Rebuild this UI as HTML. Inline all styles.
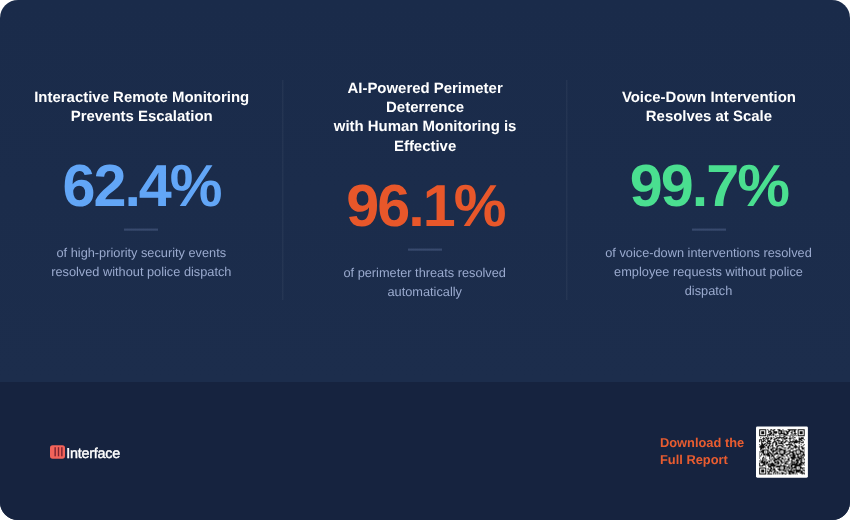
<!DOCTYPE html>
<html lang="en">
<head>
<meta charset="utf-8">
<title>Security Report Highlights</title>
<style>
*{box-sizing:border-box;margin:0;padding:0}
html,body{width:850px;height:520px;background:#fff;overflow:hidden}
body{font-family:"Liberation Sans",Arial,Helvetica,sans-serif;text-rendering:geometricPrecision}
.card{position:relative;width:850px;height:520px;border-radius:18px;overflow:hidden;background:linear-gradient(180deg,#1a2b4a 0px,#1c2d4c 382px)}
.divider{position:absolute;top:80px;width:2px;height:220px;background:linear-gradient(90deg,rgba(255,255,255,.045) 0,rgba(255,255,255,.045) 1px,rgba(255,255,255,.02) 1px,rgba(255,255,255,.02) 2px)}
.col{position:absolute;top:0;width:300px;height:382px;text-align:center}
.col>*{position:absolute;left:0;width:300px;white-space:nowrap}
.title{color:#fff;font-weight:700;font-size:14.95px;line-height:19.35px}
.num{font-weight:700;font-size:59.3px;line-height:70px;letter-spacing:-2.0px}
.c1 .num{color:#62a6f7}
.c2 .num{color:#e8572a}
.c3 .num{color:#4adf90}
.col>.rule{width:34px;height:3px;background:linear-gradient(180deg,rgba(140,160,210,.11) 0,rgba(140,160,210,.11) 1px,rgba(140,160,210,.25) 1px,rgba(140,160,210,.25) 2px,rgba(140,160,210,.17) 2px,rgba(140,160,210,.17) 3px)}
.desc{color:#9babcf;font-size:12.78px;line-height:19.05px}
.footer{position:absolute;left:0;top:382px;width:850px;height:138px;background:#16233f}
.logo{position:absolute;left:50px;top:445px;width:80px;height:14px}
.logo svg{position:absolute;left:0;top:0;display:block}
.logo span{position:absolute;left:16.2px;top:0px;display:block;color:#fff;font-weight:400;-webkit-text-stroke:.4px #fff;font-size:14.4px;line-height:18px;letter-spacing:-.25px;white-space:nowrap}
.dl{position:absolute;left:660px;top:434.4px;color:#e85c30;font-weight:700;font-size:12.85px;line-height:17px;white-space:nowrap}
.qr{position:absolute;left:756px;top:426px;width:52px;height:52px;display:block}
</style>
</head>
<body>
<main class="card">
  <div class="divider" style="left:282px"></div>
  <div class="divider" style="left:566px"></div>
  <section class="col c1" style="left:-8.30px">
    <h3 class="title" style="top:87.9px">Interactive Remote Monitoring<br>Prevents Escalation</h3>
    <div class="num" style="top:151px;left:-0.2px">62.4%</div>
    <div class="rule" style="top:228px;left:132.30px"></div>
    <p class="desc" style="top:242.5px;left:-0.4px">of high-priority security events<br>resolved without police dispatch</p>
  </section>
  <section class="col c2" style="left:275.10px">
    <h3 class="title" style="top:78.6px">AI-Powered Perimeter<br>Deterrence<br>with Human Monitoring is<br>Effective</h3>
    <div class="num" style="top:171px;left:0.3px">96.1%</div>
    <div class="rule" style="top:248px;left:132.90px"></div>
    <p class="desc" style="top:262.5px;left:-0.4px">of perimeter threats resolved<br>automatically</p>
  </section>
  <section class="col c3" style="left:558.90px">
    <h3 class="title" style="top:87.9px">Voice-Down Intervention<br>Resolves at Scale</h3>
    <div class="num" style="top:151px;left:-0.1px">99.7%</div>
    <div class="rule" style="top:228px;left:133.10px"></div>
    <p class="desc" style="top:242.5px;left:-0.4px">of voice-down interventions resolved<br>employee requests without police<br>dispatch</p>
  </section>
  <footer class="footer"></footer>
  <div class="logo">
    <svg width="15" height="14" viewBox="0 0 15 14" aria-hidden="true"><rect x="0" y="0.3" width="15" height="13.4" rx="2.6" fill="#f2635a"/><g fill="#7c2331"><rect x="4.45" y="2.2" width="1.4" height="9.1"/><rect x="7.8" y="2.2" width="1.4" height="9.1"/><rect x="11.15" y="2.2" width="1.4" height="9.1"/></g></svg>
    <span>Interface</span>
  </div>
  <div class="dl">Download the<br>Full Report</div>
  <svg class="qr" viewBox="0 0 52 52" aria-hidden="true"><rect x="0" y="0.4" width="51.9" height="51.3" rx="1.4" fill="#fff"/><g transform="translate(3.2 3.3) scale(1.0111 1.0044)"><path fill="#0b0b0b" d="M0 0h7v1h-7zM8 0h1v1h-1zM11 0h2v1h-2zM14 0h2v1h-2zM18 0h3v1h-3zM23 0h1v1h-1zM28 0h9v1h-9zM38 0h7v1h-7zM0 1h1v1h-1zM6 1h1v1h-1zM9 1h1v1h-1zM11 1h1v1h-1zM13 1h2v1h-2zM19 1h4v1h-4zM24 1h1v1h-1zM26 1h1v1h-1zM29 1h2v1h-2zM32 1h1v1h-1zM34 1h2v1h-2zM38 1h1v1h-1zM44 1h1v1h-1zM0 2h1v1h-1zM2 2h3v1h-3zM6 2h1v1h-1zM9 2h3v1h-3zM14 2h4v1h-4zM19 2h1v1h-1zM21 2h2v1h-2zM24 2h1v1h-1zM26 2h4v1h-4zM32 2h1v1h-1zM34 2h2v1h-2zM38 2h1v1h-1zM40 2h3v1h-3zM44 2h1v1h-1zM0 3h1v1h-1zM2 3h3v1h-3zM6 3h1v1h-1zM9 3h1v1h-1zM11 3h2v1h-2zM14 3h4v1h-4zM19 3h1v1h-1zM21 3h2v1h-2zM24 3h1v1h-1zM27 3h2v1h-2zM31 3h2v1h-2zM35 3h1v1h-1zM38 3h1v1h-1zM40 3h3v1h-3zM44 3h1v1h-1zM0 4h1v1h-1zM2 4h3v1h-3zM6 4h1v1h-1zM10 4h3v1h-3zM14 4h1v1h-1zM16 4h1v1h-1zM19 4h7v1h-7zM27 4h2v1h-2zM32 4h1v1h-1zM34 4h3v1h-3zM38 4h1v1h-1zM40 4h3v1h-3zM44 4h1v1h-1zM0 5h1v1h-1zM6 5h1v1h-1zM8 5h4v1h-4zM13 5h2v1h-2zM20 5h1v1h-1zM24 5h4v1h-4zM31 5h1v1h-1zM33 5h1v1h-1zM35 5h1v1h-1zM38 5h1v1h-1zM44 5h1v1h-1zM0 6h7v1h-7zM8 6h1v1h-1zM10 6h1v1h-1zM12 6h1v1h-1zM14 6h1v1h-1zM16 6h1v1h-1zM18 6h1v1h-1zM20 6h1v1h-1zM22 6h1v1h-1zM24 6h1v1h-1zM26 6h1v1h-1zM28 6h1v1h-1zM30 6h1v1h-1zM32 6h1v1h-1zM34 6h1v1h-1zM36 6h1v1h-1zM38 6h7v1h-7zM8 7h1v1h-1zM16 7h1v1h-1zM20 7h1v1h-1zM24 7h2v1h-2zM30 7h1v1h-1zM33 7h1v1h-1zM1 8h1v1h-1zM4 8h1v1h-1zM6 8h2v1h-2zM9 8h1v1h-1zM11 8h2v1h-2zM14 8h1v1h-1zM17 8h8v1h-8zM26 8h2v1h-2zM30 8h1v1h-1zM32 8h1v1h-1zM34 8h2v1h-2zM39 8h1v1h-1zM41 8h3v1h-3zM3 9h3v1h-3zM7 9h3v1h-3zM11 9h2v1h-2zM15 9h3v1h-3zM19 9h1v1h-1zM22 9h1v1h-1zM24 9h4v1h-4zM29 9h3v1h-3zM33 9h1v1h-1zM39 9h5v1h-5zM0 10h3v1h-3zM4 10h1v1h-1zM6 10h1v1h-1zM8 10h1v1h-1zM11 10h1v1h-1zM14 10h2v1h-2zM18 10h1v1h-1zM23 10h1v1h-1zM25 10h1v1h-1zM30 10h1v1h-1zM34 10h1v1h-1zM36 10h1v1h-1zM39 10h3v1h-3zM44 10h1v1h-1zM0 11h1v1h-1zM2 11h1v1h-1zM4 11h2v1h-2zM8 11h3v1h-3zM15 11h1v1h-1zM17 11h4v1h-4zM23 11h1v1h-1zM26 11h2v1h-2zM30 11h1v1h-1zM33 11h1v1h-1zM35 11h3v1h-3zM39 11h1v1h-1zM41 11h2v1h-2zM0 12h1v1h-1zM2 12h3v1h-3zM6 12h1v1h-1zM8 12h4v1h-4zM14 12h3v1h-3zM19 12h1v1h-1zM21 12h3v1h-3zM25 12h2v1h-2zM28 12h1v1h-1zM30 12h11v1h-11zM43 12h1v1h-1zM2 13h1v1h-1zM7 13h2v1h-2zM10 13h1v1h-1zM13 13h2v1h-2zM16 13h2v1h-2zM19 13h1v1h-1zM21 13h2v1h-2zM24 13h2v1h-2zM29 13h2v1h-2zM32 13h1v1h-1zM34 13h4v1h-4zM39 13h1v1h-1zM41 13h3v1h-3zM2 14h2v1h-2zM5 14h2v1h-2zM8 14h4v1h-4zM13 14h1v1h-1zM16 14h2v1h-2zM19 14h5v1h-5zM29 14h1v1h-1zM31 14h1v1h-1zM34 14h1v1h-1zM39 14h1v1h-1zM0 15h1v1h-1zM2 15h4v1h-4zM7 15h1v1h-1zM10 15h1v1h-1zM13 15h1v1h-1zM16 15h2v1h-2zM23 15h1v1h-1zM26 15h7v1h-7zM35 15h1v1h-1zM41 15h1v1h-1zM44 15h1v1h-1zM1 16h4v1h-4zM6 16h2v1h-2zM9 16h2v1h-2zM12 16h2v1h-2zM16 16h1v1h-1zM18 16h5v1h-5zM24 16h1v1h-1zM27 16h1v1h-1zM30 16h1v1h-1zM32 16h2v1h-2zM35 16h2v1h-2zM39 16h1v1h-1zM43 16h1v1h-1zM0 17h6v1h-6zM8 17h2v1h-2zM11 17h1v1h-1zM13 17h1v1h-1zM17 17h2v1h-2zM22 17h2v1h-2zM29 17h2v1h-2zM34 17h4v1h-4zM39 17h1v1h-1zM41 17h2v1h-2zM1 18h4v1h-4zM6 18h1v1h-1zM8 18h2v1h-2zM13 18h3v1h-3zM17 18h1v1h-1zM20 18h1v1h-1zM24 18h3v1h-3zM28 18h2v1h-2zM31 18h1v1h-1zM33 18h1v1h-1zM35 18h2v1h-2zM38 18h2v1h-2zM42 18h3v1h-3zM1 19h2v1h-2zM9 19h1v1h-1zM11 19h3v1h-3zM16 19h7v1h-7zM28 19h1v1h-1zM31 19h3v1h-3zM39 19h1v1h-1zM42 19h2v1h-2zM1 20h1v1h-1zM3 20h6v1h-6zM11 20h2v1h-2zM14 20h1v1h-1zM16 20h2v1h-2zM20 20h7v1h-7zM30 20h1v1h-1zM36 20h5v1h-5zM44 20h1v1h-1zM2 21h3v1h-3zM8 21h2v1h-2zM12 21h5v1h-5zM18 21h3v1h-3zM24 21h2v1h-2zM28 21h3v1h-3zM33 21h4v1h-4zM40 21h3v1h-3zM0 22h5v1h-5zM6 22h1v1h-1zM8 22h1v1h-1zM10 22h1v1h-1zM13 22h2v1h-2zM17 22h1v1h-1zM20 22h1v1h-1zM22 22h1v1h-1zM24 22h4v1h-4zM30 22h4v1h-4zM36 22h1v1h-1zM38 22h1v1h-1zM40 22h5v1h-5zM3 23h2v1h-2zM8 23h4v1h-4zM13 23h1v1h-1zM16 23h3v1h-3zM20 23h1v1h-1zM24 23h2v1h-2zM29 23h2v1h-2zM32 23h3v1h-3zM36 23h1v1h-1zM40 23h1v1h-1zM43 23h1v1h-1zM0 24h1v1h-1zM2 24h1v1h-1zM4 24h6v1h-6zM11 24h2v1h-2zM14 24h5v1h-5zM20 24h6v1h-6zM27 24h3v1h-3zM33 24h2v1h-2zM36 24h6v1h-6zM43 24h2v1h-2zM2 25h1v1h-1zM4 25h2v1h-2zM7 25h4v1h-4zM12 25h2v1h-2zM15 25h1v1h-1zM19 25h1v1h-1zM21 25h3v1h-3zM26 25h2v1h-2zM30 25h6v1h-6zM37 25h2v1h-2zM42 25h3v1h-3zM0 26h2v1h-2zM6 26h1v1h-1zM8 26h3v1h-3zM12 26h3v1h-3zM18 26h1v1h-1zM22 26h3v1h-3zM27 26h1v1h-1zM30 26h1v1h-1zM33 26h3v1h-3zM38 26h1v1h-1zM40 26h3v1h-3zM44 26h1v1h-1zM4 27h1v1h-1zM10 27h1v1h-1zM12 27h1v1h-1zM14 27h1v1h-1zM17 27h1v1h-1zM19 27h3v1h-3zM25 27h1v1h-1zM28 27h1v1h-1zM31 27h5v1h-5zM37 27h3v1h-3zM41 27h1v1h-1zM43 27h1v1h-1zM0 28h1v1h-1zM3 28h2v1h-2zM6 28h1v1h-1zM10 28h1v1h-1zM14 28h2v1h-2zM18 28h3v1h-3zM22 28h2v1h-2zM29 28h1v1h-1zM31 28h6v1h-6zM38 28h6v1h-6zM3 29h1v1h-1zM5 29h1v1h-1zM10 29h1v1h-1zM12 29h2v1h-2zM15 29h5v1h-5zM22 29h2v1h-2zM25 29h2v1h-2zM28 29h2v1h-2zM32 29h3v1h-3zM37 29h1v1h-1zM39 29h3v1h-3zM44 29h1v1h-1zM1 30h1v1h-1zM3 30h2v1h-2zM6 30h2v1h-2zM11 30h1v1h-1zM14 30h4v1h-4zM19 30h3v1h-3zM24 30h1v1h-1zM28 30h2v1h-2zM32 30h1v1h-1zM34 30h1v1h-1zM36 30h4v1h-4zM41 30h2v1h-2zM44 30h1v1h-1zM0 31h1v1h-1zM2 31h2v1h-2zM5 31h1v1h-1zM9 31h2v1h-2zM12 31h1v1h-1zM14 31h2v1h-2zM18 31h1v1h-1zM21 31h2v1h-2zM25 31h1v1h-1zM27 31h1v1h-1zM29 31h1v1h-1zM31 31h2v1h-2zM36 31h3v1h-3zM40 31h2v1h-2zM1 32h8v1h-8zM10 32h1v1h-1zM15 32h5v1h-5zM21 32h2v1h-2zM24 32h1v1h-1zM26 32h3v1h-3zM32 32h4v1h-4zM37 32h2v1h-2zM41 32h2v1h-2zM44 32h1v1h-1zM0 33h1v1h-1zM2 33h4v1h-4zM7 33h2v1h-2zM12 33h2v1h-2zM15 33h2v1h-2zM18 33h2v1h-2zM22 33h2v1h-2zM25 33h2v1h-2zM31 33h2v1h-2zM34 33h1v1h-1zM36 33h3v1h-3zM40 33h5v1h-5zM0 34h1v1h-1zM4 34h4v1h-4zM9 34h6v1h-6zM17 34h3v1h-3zM21 34h1v1h-1zM25 34h4v1h-4zM30 34h1v1h-1zM32 34h6v1h-6zM39 34h3v1h-3zM43 34h1v1h-1zM0 35h1v1h-1zM3 35h3v1h-3zM8 35h2v1h-2zM11 35h6v1h-6zM21 35h1v1h-1zM24 35h1v1h-1zM29 35h1v1h-1zM31 35h12v1h-12zM44 35h1v1h-1zM0 36h4v1h-4zM6 36h1v1h-1zM9 36h7v1h-7zM17 36h10v1h-10zM29 36h1v1h-1zM31 36h2v1h-2zM35 36h6v1h-6zM9 37h3v1h-3zM14 37h1v1h-1zM16 37h5v1h-5zM24 37h2v1h-2zM27 37h3v1h-3zM31 37h2v1h-2zM34 37h3v1h-3zM40 37h2v1h-2zM0 38h7v1h-7zM11 38h2v1h-2zM14 38h1v1h-1zM20 38h1v1h-1zM22 38h1v1h-1zM24 38h2v1h-2zM27 38h1v1h-1zM29 38h2v1h-2zM32 38h5v1h-5zM38 38h1v1h-1zM40 38h5v1h-5zM0 39h1v1h-1zM6 39h1v1h-1zM8 39h2v1h-2zM11 39h2v1h-2zM14 39h2v1h-2zM18 39h3v1h-3zM24 39h2v1h-2zM27 39h1v1h-1zM29 39h1v1h-1zM31 39h2v1h-2zM36 39h1v1h-1zM40 39h1v1h-1zM42 39h1v1h-1zM0 40h1v1h-1zM2 40h3v1h-3zM6 40h1v1h-1zM10 40h2v1h-2zM13 40h3v1h-3zM19 40h6v1h-6zM26 40h1v1h-1zM28 40h1v1h-1zM31 40h1v1h-1zM33 40h8v1h-8zM43 40h2v1h-2zM0 41h1v1h-1zM2 41h3v1h-3zM6 41h1v1h-1zM8 41h1v1h-1zM10 41h3v1h-3zM15 41h2v1h-2zM20 41h1v1h-1zM24 41h3v1h-3zM28 41h5v1h-5zM34 41h1v1h-1zM36 41h7v1h-7zM44 41h1v1h-1zM0 42h1v1h-1zM2 42h3v1h-3zM6 42h1v1h-1zM8 42h3v1h-3zM12 42h1v1h-1zM14 42h2v1h-2zM17 42h2v1h-2zM22 42h1v1h-1zM26 42h1v1h-1zM29 42h6v1h-6zM36 42h4v1h-4zM41 42h2v1h-2zM0 43h1v1h-1zM6 43h1v1h-1zM9 43h1v1h-1zM14 43h1v1h-1zM16 43h1v1h-1zM18 43h1v1h-1zM20 43h1v1h-1zM22 43h3v1h-3zM27 43h1v1h-1zM29 43h2v1h-2zM32 43h3v1h-3zM36 43h1v1h-1zM40 43h5v1h-5zM0 44h7v1h-7zM8 44h5v1h-5zM14 44h1v1h-1zM16 44h1v1h-1zM18 44h1v1h-1zM20 44h1v1h-1zM22 44h2v1h-2zM25 44h2v1h-2zM29 44h3v1h-3zM33 44h1v1h-1zM35 44h1v1h-1zM37 44h1v1h-1zM42 44h1v1h-1zM44 44h1v1h-1z"/></g></svg>
</main>
</body>
</html>
